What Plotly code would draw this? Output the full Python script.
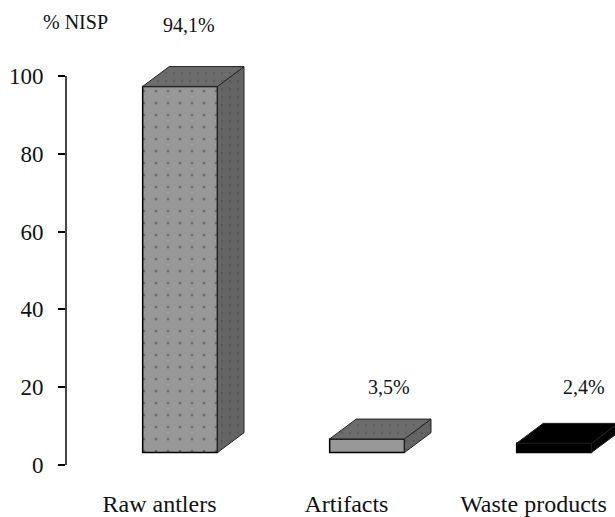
import plotly.graph_objects as go

categories = ["Raw antlers", "Artifacts", "Waste products"]
values = [94.1, 3.5, 2.4]
value_labels = ["94,1%", "3,5%", "2,4%"]
label_levels = [113, 20, 20]
label_positions = [0.05, 1.12, 2.16]
y_ticks = [0, 20, 40, 60, 80, 100]

positions = [0, 1, 2]
BASE = 3.2
WIDTH = 0.40
DX = 0.142
DY = 5.1
YMAX = 110
FRONT = ["#989898", "#989898", "#000000"]
TOP = ["#6c6c6c", "#6c6c6c", "#000000"]
SIDE = ["#646464", "#646464", "#000000"]
FACE_PATTERN = [".", ".", ""]
FONT = "Liberation Serif"

fig = go.Figure()

for i, (p, v) in enumerate(zip(positions, values)):
    left, right, top = p - WIDTH / 2, p + WIDTH / 2, BASE + v
    fig.add_trace(go.Scatter(
        x=[right, right + DX, right + DX, right, right],
        y=[BASE, BASE + DY, top + DY, top, BASE],
        mode="lines", fill="toself", fillcolor=SIDE[i],
        fillpattern=dict(shape=FACE_PATTERN[i], fgcolor="#4c4c4c", bgcolor=SIDE[i], size=8, solidity=0.08),
        line=dict(color="#222222", width=1), showlegend=False, hoverinfo="skip"))
    fig.add_trace(go.Scatter(
        x=[left, left + DX, right + DX, right, left],
        y=[top, top + DY, top + DY, top, top],
        mode="lines", fill="toself", fillcolor=TOP[i],
        fillpattern=dict(shape=FACE_PATTERN[i], fgcolor="#545454", bgcolor=TOP[i], size=8, solidity=0.08),
        line=dict(color="#222222", width=1), showlegend=False, hoverinfo="skip"))

fig.add_trace(go.Bar(
    x=positions, y=values, base=BASE, width=WIDTH,
    marker=dict(color=FRONT, line=dict(color="#000000", width=1.5),
                pattern=dict(shape=[".", "", ""], fgcolor="#666666", bgcolor="#989898", size=12, solidity=0.05)),
    showlegend=False, hoverinfo="skip"))

annotations = [dict(x=x, y=l / YMAX, xref="x", yref="paper", text=t, showarrow=False,
                    xanchor="center", yanchor="middle",
                    font=dict(family=FONT, size=20, color="#111111"))
               for x, l, t in zip(label_positions, label_levels, value_labels)]
annotations.append(dict(x=0.018, y=1.035, xref="paper", yref="paper", text="% NISP", showarrow=False,
                        xanchor="center", yanchor="middle",
                        font=dict(family=FONT, size=20, color="#111111")))

fig.update_layout(
    width=615, height=517, autosize=False,
    margin=dict(l=66, r=0, t=37, b=52),
    paper_bgcolor="white", plot_bgcolor="white",
    barmode="overlay", annotations=annotations,
    shapes=[dict(type="line", xref="paper", x0=0, x1=0, yref="y", y0=0, y1=100,
                 line=dict(color="#444444", width=2))],
    xaxis=dict(range=[-0.61, 2.326], tickvals=[p - 0.11 for p in positions], ticktext=categories,
               ticks="outside", ticklen=17, tickcolor="rgba(0,0,0,0)", showgrid=False,
               zeroline=False, showline=False,
               tickfont=dict(family=FONT, size=24, color="#111111")),
    yaxis=dict(range=[0, YMAX], tickvals=y_ticks, ticks="outside", ticklen=7, tickwidth=2,
               tickcolor="#000000", showgrid=False, zeroline=False, showline=False,
               ticklabelstandoff=10,
               tickfont=dict(family=FONT, size=23, color="#111111")),
)

fig.write_html(
    "out.html",
    config={"displayModeBar": False},
    post_script="document.body.style.margin='0';document.documentElement.style.overflow='hidden';",
)
